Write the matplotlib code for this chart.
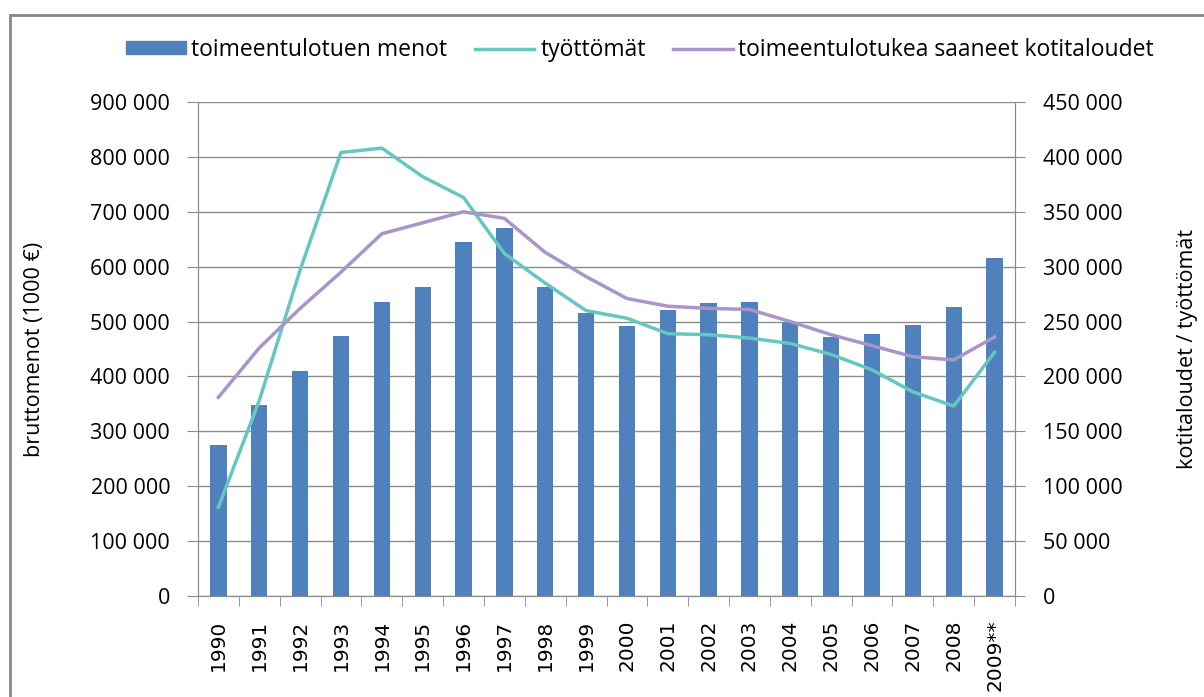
import matplotlib.pyplot as plt
import numpy as np
from matplotlib.patches import Rectangle
from matplotlib.lines import Line2D

years = ["1990", "1991", "1992", "1993", "1994", "1995", "1996", "1997", "1998", "1999",
         "2000", "2001", "2002", "2003", "2004", "2005", "2006", "2007", "2008", "2009**"]
menot = [275000, 348000, 410000, 474000, 535000, 563000, 645000, 670000, 563000, 516000,
         492000, 521000, 534000, 535000, 499000, 472000, 477000, 494000, 527000, 616000]
tyottomat = [81000, 178000, 297000, 404000, 408000, 382000, 363000, 312000, 285000, 260000,
             253000, 239000, 238000, 235000, 230000, 220000, 206000, 186000, 173000, 222000]
kotitaloudet = [181000, 226000, 262000, 295000, 330000, 340000, 350000, 344000, 313000, 291000,
                271000, 264000, 262000, 261000, 250000, 238000, 228000, 218000, 215000, 236000]

bar_col = "#4f81bd"
cyan = "#66c7c2"
purple = "#a995c9"
grey = "#8c8c8c"
font = "Open Sans"

def fmt(v):
       return f"{int(v):,}".replace(",", " ")

fig = plt.figure(figsize=(12.04, 6.97), dpi=100)
fig.patches.append(Rectangle((10/1204, -0.1), 1.2, 1 - 15/697 + 0.1, transform=fig.transFigure,
                             fill=False, edgecolor="#888888", linewidth=2))
ax = fig.add_axes([198/1204, 1 - 596/697, 817/1204, 494/697])
ax2 = ax.twinx()

x = np.arange(len(years))
ax.bar(x, menot, width=0.4, color=bar_col, zorder=2)
ax2.plot(x, tyottomat, color=cyan, linewidth=2.5, zorder=3)
ax2.plot(x, kotitaloudet, color=purple, linewidth=2.5, zorder=3)

ax.set_xlim(-0.5, len(years) - 0.5)
ax.set_ylim(0, 900000)
ax2.set_ylim(0, 450000)
ax.set_yticks(np.arange(0, 900001, 100000))
ax2.set_yticks(np.arange(0, 450001, 50000))
ax.set_yticklabels([fmt(v) for v in ax.get_yticks()], fontsize=15.5, family=font)
ax2.set_yticklabels([fmt(v) for v in ax2.get_yticks()], fontsize=15.5, family=font)
ax.grid(axis="y", color=grey, linewidth=1, zorder=0)
ax.set_axisbelow(True)

ax.set_xticks(x)
ax.set_xticklabels(years, rotation=90, fontsize=14.5, family="DejaVu Sans")
ax.set_xticks(np.arange(-0.5, len(years), 1), minor=True)
ax.tick_params(axis="x", which="major", length=0, pad=17)
ax.tick_params(axis="x", which="minor", length=7, color=grey)
ax.tick_params(axis="y", length=8, color=grey, pad=12)
ax2.tick_params(axis="y", length=7, color=grey, pad=13)

for a in (ax, ax2):
       a.spines["top"].set_visible(False)
       for s in ("left", "right", "bottom"):
               a.spines[s].set_color(grey)
ax.set_ylabel("bruttomenot (1000 €)", fontsize=15.5, family=font)
ax2.set_ylabel("kotitaloudet / työttömät", fontsize=15.5, family=font)
ax.yaxis.set_label_coords(-0.187, 0.5)
ax2.yaxis.set_label_coords(1.198, 0.5)

handles = [Rectangle((0, 0), 1, 1, color=bar_col),
           Line2D([0], [0], color=cyan, linewidth=2.5),
           Line2D([0], [0], color=purple, linewidth=2.5)]
labels = ["toimeentulotuen menot", "työttömät", "toimeentulotukea saaneet kotitaloudet"]
fig.legend(handles, labels, loc="center", bbox_to_anchor=(640/1204, 1 - 50/697), ncol=3,
           frameon=False, prop={"family": font, "size": 16.5}, handlelength=2.6,
           handleheight=0.5, handletextpad=0.25, columnspacing=1.2)

fig.savefig("out.png", dpi=100)
